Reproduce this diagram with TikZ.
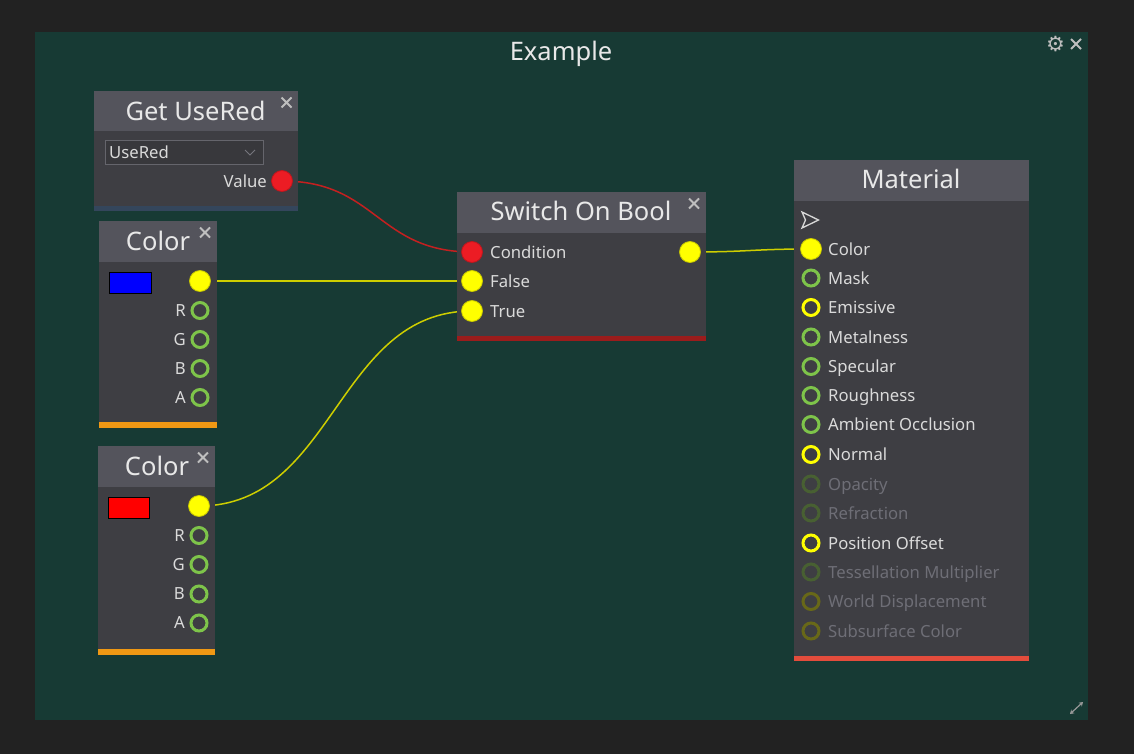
\documentclass[tikz,border=0pt]{standalone}
\usepackage{fontspec}
\setmainfont{Noto Sans}
\newfontfamily\symfont{DejaVu Sans}
\usetikzlibrary{arrows.meta}
\definecolor{outerbg}{RGB}{34,34,34}
\definecolor{panel}{RGB}{23,58,52}
\definecolor{hdr}{RGB}{84,84,92}
\definecolor{bodyc}{RGB}{62,62,67}
\definecolor{lbl}{RGB}{218,218,218}
\definecolor{dimlbl}{RGB}{110,110,118}
\definecolor{ttl}{RGB}{232,232,232}
\definecolor{iconc}{RGB}{190,190,190}
\definecolor{ylw}{RGB}{255,255,0}
\definecolor{ylwedge}{RGB}{200,200,0}
\definecolor{grn}{RGB}{126,196,74}
\definecolor{dgrn}{RGB}{72,96,50}
\definecolor{dylw}{RGB}{104,104,24}
\definecolor{redc}{RGB}{236,28,36}
\definecolor{redwirec}{RGB}{196,32,32}
\definecolor{ywirec}{RGB}{206,206,0}
\definecolor{barblue}{RGB}{52,70,92}
\definecolor{barorange}{RGB}{240,152,20}
\definecolor{bardred}{RGB}{155,28,28}
\definecolor{barred}{RGB}{228,76,60}
\pgfdeclarelayer{bg}
\pgfdeclarelayer{edges}
\pgfsetlayers{bg,edges,main}
\tikzset{
  ttlfont/.style={font=\fontsize{25.5}{30}\selectfont, text=ttl, inner sep=0pt, anchor=base},
  lblfont/.style={font=\fontsize{16.7}{20}\selectfont, text=lbl, inner sep=0pt},
  dimfont/.style={font=\fontsize{16.7}{20}\selectfont, text=dimlbl, inner sep=0pt},
  yfill/.style={circle, inner sep=0pt, minimum size=21pt, fill=ylw, draw=ylwedge, line width=0.8pt},
  rfill/.style={circle, inner sep=0pt, minimum size=21pt, fill=redc, draw=redc!80!black, line width=0.8pt},
  ringbase/.style={circle, inner sep=0pt, minimum size=16pt, line width=3pt},
  gring/.style={ringbase, draw=grn},
  yring/.style={ringbase, draw=ylw},
  dgring/.style={ringbase, draw=dgrn},
  dyring/.style={ringbase, draw=dylw},
  closex/.style={draw=iconc, line width=1.8pt},
  ywire/.style={draw=ywirec, line width=1.5pt},
  rwire/.style={draw=redwirec, line width=1.5pt},
}
\begin{document}
\begin{tikzpicture}[x=1pt,y=-1pt]
\useasboundingbox (0,0) rectangle (1134,754);
\begin{pgfonlayer}{bg}
\fill[outerbg] (0,0) rectangle (1134,754);
\fill[panel] (35,32) rectangle (1088,720);
\end{pgfonlayer}
\node[ttlfont] (title) at (561,61) {Example};
\node[font=\symfont\fontsize{21}{24}\selectfont, text=iconc, inner sep=0pt] (gear) at (1055.5,44) {⚙};
\draw[closex] (1071,39) -- (1081,49) (1071,49) -- (1081,39);
\draw[draw=iconc!80!black, line width=1.2pt, {Stealth[length=4pt,width=5pt]}-{Stealth[length=4pt,width=5pt]}] (1070,714) -- (1083,702);

% ---------- Get UseRed ----------
\fill[hdr] (94,91) rectangle (298,131);
\fill[bodyc] (94,131) rectangle (298,206);
\fill[barblue] (94,206) rectangle (298,211);
\node[ttlfont] (gurt) at (195.5,120.5) {Get UseRed};
\draw[closex] (281.5,97.5) -- (291.5,107.5) (281.5,107.5) -- (291.5,97.5);
\draw[draw=hdr!90!white, fill=bodyc!90!black, line width=1pt] (105,141) rectangle (263,165);
\node[lblfont, anchor=base west] (ddt) at (109,159) {UseRed};
\draw[draw=hdr!80!white, line width=1pt] (245,150) -- (250,155) -- (255,150);
\node[lblfont, anchor=base east] (valt) at (267,187) {Value};
\node[rfill] (val) at (282,181) {};

% ---------- Color 1 ----------
\fill[hdr] (99,221) rectangle (217,262);
\fill[bodyc] (99,262) rectangle (217,422);
\fill[barorange] (99,422) rectangle (217,428);
\node[ttlfont] (c1t) at (158,250) {Color};
\draw[closex] (200,227.5) -- (210,237.5) (200,237.5) -- (210,227.5);
\draw[fill=blue, draw=black, line width=1pt] (109.5,272.5) rectangle (151,293);
\node[yfill] (c1o) at (200,281) {};
\foreach \yy/\ll [count=\i] in {310.5/R,339.5/G,368.5/B,397.5/A}{
  \node[gring] (c1r\i) at (200,\yy) {};
  \node[lblfont, anchor=base east] (c1l\i) at (186,\yy+5.5) {\ll};
}

% ---------- Color 2 ----------
\fill[hdr] (98,446) rectangle (215,487);
\fill[bodyc] (98,487) rectangle (215,649);
\fill[barorange] (98,649) rectangle (215,655);
\node[ttlfont] (c2t) at (157,475) {Color};
\draw[closex] (198,452.5) -- (208,462.5) (198,462.5) -- (208,452.5);
\draw[fill=red, draw=black, line width=1pt] (108,497.5) rectangle (149.5,518);
\node[yfill] (c2o) at (199,506) {};
\foreach \yy/\ll [count=\i] in {535.5/R,564.5/G,594/B,623/A}{
  \node[gring] (c2r\i) at (199,\yy) {};
  \node[lblfont, anchor=base east] (c2l\i) at (185,\yy+5.5) {\ll};
}

% ---------- Switch On Bool ----------
\fill[hdr] (457,192) rectangle (706,233);
\fill[bodyc] (457,233) rectangle (706,336);
\fill[bardred] (457,336) rectangle (706,341);
\node[ttlfont] (swt) at (581,220.5) {Switch On Bool};
\draw[closex] (689,198.5) -- (699,208.5) (689,208.5) -- (699,198.5);
\node[rfill] (cond) at (472,252) {};
\node[yfill] (sfalse) at (472,281) {};
\node[yfill] (strue) at (472,311) {};
\node[lblfont, anchor=base west] (condt) at (490,258) {Condition};
\node[lblfont, anchor=base west] (falset) at (490,287) {False};
\node[lblfont, anchor=base west] (truet) at (490,317) {True};
\node[yfill] (sout) at (690,252) {};

% ---------- Material ----------
\fill[hdr] (794,160) rectangle (1029,201);
\fill[bodyc] (794,201) rectangle (1029,656);
\fill[barred] (794,656) rectangle (1029,661);
\node[ttlfont] (matt) at (911,189) {Material};
\draw[draw=lbl, line width=1.3pt, line join=miter] (802,212) -- (818.5,220) -- (802,228) -- (805.5,220) -- cycle;
\foreach \yy/\ll/\st/\tf [count=\i] in {
  249/Color/yfill/lblfont, 278/Mask/gring/lblfont, 307.5/Emissive/yring/lblfont,
  337/Metalness/gring/lblfont, 366.5/Specular/gring/lblfont, 395.5/Roughness/gring/lblfont,
  424.5/Ambient Occlusion/gring/lblfont, 454.5/Normal/yring/lblfont, 484/Opacity/dgring/dimfont,
  513/Refraction/dgring/dimfont, 543/Position Offset/yring/lblfont,
  572/Tessellation Multiplier/dgring/dimfont, 601.5/World Displacement/dyring/dimfont,
  631/Subsurface Color/dyring/dimfont}{
  \node[\st] (m\i) at (811,\yy) {};
  \node[\tf, anchor=base west] (ml\i) at (828,\yy+6) {\ll};
}

% ---------- wires ----------
\begin{pgfonlayer}{edges}
\draw[rwire] (val.center) .. controls +(95,0) and +(-95,0) .. (cond.center);
\draw[ywire] (c1o.center) -- (sfalse.center);
\draw[ywire] (c2o.center) .. controls +(136,0) and +(-136,0) .. (strue.center);
\draw[ywire] (sout.center) .. controls +(60,0) and +(-60,0) .. (m1.center);
\end{pgfonlayer}
\end{tikzpicture}
\end{document}
